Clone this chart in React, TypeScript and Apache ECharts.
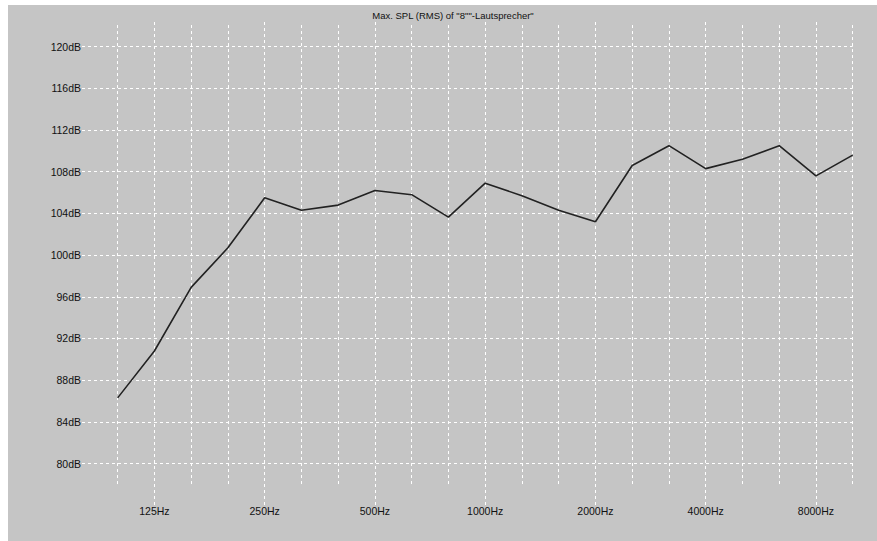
import React, { useEffect, useRef } from "react";
import * as echarts from "echarts";

const TITLE = 'Max. SPL (RMS) of "8""-Lautsprecher"';
const FREQS = ["100Hz", "125Hz", "160Hz", "200Hz", "250Hz", "315Hz", "400Hz", "500Hz", "630Hz", "800Hz", "1000Hz", "1250Hz", "1600Hz", "2000Hz", "2500Hz", "3150Hz", "4000Hz", "5000Hz", "6300Hz", "8000Hz", "10000Hz"];
const SPL = [86.3, 90.8, 96.9, 100.7, 105.5, 104.3, 104.8, 106.2, 105.8, 103.65, 106.9, 105.7, 104.3, 103.2, 108.6, 110.5, 108.3, 109.2, 110.5, 107.6, 109.6];
const Y_TICKS = [80, 84, 88, 92, 96, 100, 104, 108, 112, 116, 120];
const LABELED_IDX = [1, 4, 7, 10, 13, 16, 19];

const X_MIN = -0.97;
const X_MAX = 20;
const Y_MIN = 76.02;
const Y_GRID_BOTTOM = 78.03;
const Y_MAX = 122.37;

const FONT = "'Liberation Sans Narrow', 'Liberation Sans', Arial, sans-serif";

export default function App() {
  const ref = useRef<HTMLDivElement>(null);
  useEffect(() => {
    if (!ref.current) return;
    const chart = echarts.init(ref.current, undefined, { renderer: "svg" });
    const gridLine = { color: "#ffffff", width: 1, type: [3, 3] as any };
    const vLines = FREQS.map((_, i) => {
      const bottom = LABELED_IDX.includes(i) ? Y_MIN : Y_GRID_BOTTOM;
      return [{ coord: [i, bottom] }, { coord: [i, Y_MAX] }];
    });
    const hLines = Y_TICKS.map((v) => [{ coord: [X_MIN, v] }, { coord: [X_MAX, v] }]);
    chart.setOption({
      animation: false,
      backgroundColor: "#ffffff",
      graphic: [
        {
          type: "rect",
          z: -10,
          shape: { x: 8, y: 5, width: 869, height: 536 },
          style: { fill: "#c5c5c5" },
          silent: true,
        },
      ],
      title: {
        text: TITLE,
        left: 448,
        top: 5,
        textAlign: "center",
        textStyle: { fontFamily: FONT, fontSize: 9.5, fontWeight: "normal", color: "#111" },
      },
      grid: { left: 82, right: 24.3, top: 22, bottom: 36, containLabel: false },
      xAxis: {
        type: "value",
        min: X_MIN,
        max: X_MAX,
        axisLine: { show: false },
        axisTick: { show: false },
        splitLine: { show: false },
        axisLabel: {
          customValues: LABELED_IDX,
          formatter: (v: number) => FREQS[Math.round(v)] ?? "",
          margin: 0,
          fontFamily: FONT,
          fontSize: 10.5,
          color: "#111",
        },
      },
      yAxis: {
        type: "value",
        min: Y_MIN,
        max: Y_MAX,
        axisLine: { show: false },
        axisTick: { show: false },
        splitLine: { show: false },
        axisLabel: {
          customValues: Y_TICKS,
          formatter: (v: number) => `${v}dB`,
          margin: 1,
          fontFamily: FONT,
          fontSize: 10.5,
          color: "#111",
        },
      },
      series: [
        {
          type: "line",
          data: [],
          silent: true,
          markLine: {
            silent: true,
            symbol: "none",
            label: { show: false },
            lineStyle: gridLine,
            data: [...vLines, ...hLines],
          },
          z: 1,
        },
        {
          type: "line",
          data: SPL.map((v, i) => [i, v]),
          symbol: "none",
          lineStyle: { color: "#222222", width: 1.6 },
          z: 5,
        },
      ],
    });
    return () => chart.dispose();
  }, []);
  return (
    <div
      ref={ref}
      style={{ position: "fixed", left: 0, top: 0, width: 877, height: 541 }}
    />
  );
}
